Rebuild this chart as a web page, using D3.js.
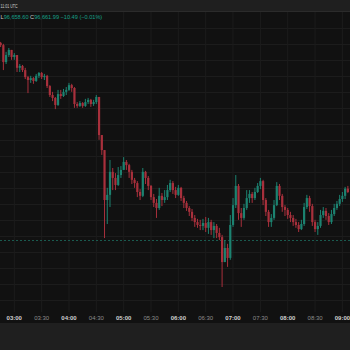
<!DOCTYPE html>
<html>
<head>
<meta charset="utf-8">
<script src="https://cdn.jsdelivr.net/npm/d3@7"></script>
<style>
html, body { margin: 0; padding: 0; background: #111111; }
svg { display: block; }
</style>
</head>
<body>
<script>
var width = 350, height = 350;
var paneTop = 12, paneBottom = 312, axisBottom = 323;

// ---- data (3 minute candles) ----
var firstTime = "02:45";
var barMinutes = 3;
var firstOpen = 97128;
var closes = [
  97121,97068,97090,97106,97084,97090,97050,97056,97043,97021,
  97012,97018,97009,97025,97034,97021,97025,96993,96965,96956,
  96934,96968,96962,96975,96981,96996,96987,96937,96931,96940,
  96931,96943,96950,96937,96943,96959,96840,96793,96637,96653,
  96725,96706,96684,96715,96731,96756,96746,96725,96700,96690,
  96662,96650,96725,96706,96681,96646,96628,96612,96650,96637,
  96646,96668,96690,96668,96653,96675,96643,96628,96612,96600,
  96581,96568,96559,96556,96565,96550,96568,96543,96556,96534,
  96521,96443,96487,96456,96559,96621,96681,96596,96581,96612,
  96643,96656,96643,96662,96681,96696,96637,96600,96568,96581,
  96621,96681,96650,96615,96606,96590,96581,96568,96559,96546,
  96562,96615,96643,96618,96568,96546,96556,96590,96603,96587,
  96568,96593,96612,96625,96640,96650,96672.48,96661.99
];
var highs = [
  97131,97125,97100,97112,97106,97096,97090,97062,97059,97050,
  97025,97025,97021,97031,97037,97037,97031,97028,96996,96975,
  96959,96981,96981,96984,96990,97003,97000,96990,96943,96946,
  96943,96953,96956,96953,96950,96965,96959,96840,96793,96675,
  96762,96737,96721,96740,96743,96771,96762,96750,96731,96706,
  96696,96671,96737,96728,96712,96684,96656,96640,96675,96659,
  96668,96684,96700,96696,96678,96684,96678,96650,96634,96618,
  96609,96590,96578,96575,96578,96584,96581,96575,96568,96562,
  96550,96528,96512,96500,96590,96643,96715,96687,96612,96625,
  96668,96668,96662,96675,96690,96706,96700,96643,96606,96593,
  96637,96693,96687,96656,96621,96612,96600,96590,96578,96568,
  96575,96628,96653,96650,96625,96575,96568,96606,96615,96612,
  96596,96606,96625,96634,96653,96662,96678,96681
];
var lows = [
  97115,97043,97062,97084,97075,97075,97037,97037,97037,97015,
  96971,97003,97000,97006,97018,97015,97012,96987,96959,96946,
  96921,96931,96953,96959,96965,96978,96975,96925,96925,96928,
  96925,96928,96937,96928,96931,96937,96825,96778,96518,96562,
  96615,96668,96668,96681,96706,96731,96731,96706,96687,96675,
  96646,96637,96646,96687,96668,96637,96615,96581,96606,96618,
  96628,96637,96662,96656,96643,96650,96634,96612,96603,96587,
  96571,96553,96550,96543,96543,96537,96531,96528,96518,96518,
  96512,96365,96443,96428,96450,96553,96612,96575,96553,96575,
  96606,96628,96628,96637,96659,96671,96621,96587,96553,96553,
  96575,96618,96637,96600,96587,96578,96568,96556,96550,96537,
  96543,96556,96609,96600,96556,96537,96528,96550,96581,96575,
  96559,96562,96587,96606,96618,96631,96640,96658.6
];
var tickLabels = ["03:00","03:30","04:00","04:30","05:00","05:30","06:00",
                  "06:30","07:00","07:30","08:00","08:30","09:00"];
var refPrice = 96512;      // dashed line
var headerTime = "11:01 UTC";
var headerLow = "96,658.60";
var headerClose = "96,661.99";
var headerChange = "\u221210.49 (\u22120.01%)";

var upColor = "#1c8270", downColor = "#a8303c";

var parseTime = d3.utcParse("%H:%M");
var t0 = parseTime(firstTime);
var candles = closes.map(function(c, i) {
  var o = i === 0 ? firstOpen : closes[i - 1];
  return {
    t: d3.utcMinute.offset(t0, i * barMinutes),
    o: o, c: c,
    h: Math.max(highs[i], o, c),
    l: Math.min(lows[i], o, c)
  };
});

var x = d3.scaleUtc()
  .domain([parseTime(tickLabels[0]), parseTime(tickLabels[tickLabels.length - 1])])
  .range([14.3, 342.4]);

var y = d3.scaleLinear().domain([97262, 96512]).range([0, 240]);

var svg = d3.select("body").append("svg")
  .attr("width", width)
  .attr("height", height);

svg.append("rect").attr("width", width).attr("height", height).attr("fill", "#111111");

// grid
var grid = svg.append("g");
var gridPrices = d3.range(97224.5 - 50, 96300, -50);
grid.selectAll(".hg").data(gridPrices).enter().append("line")
  .attr("x1", 0).attr("x2", width)
  .attr("y1", function(d) { return y(d) + 0.5; })
  .attr("y2", function(d) { return y(d) + 0.5; })
  .attr("stroke", "#1c1c1c").attr("stroke-width", 1);

grid.selectAll(".vg").data(tickLabels).enter().append("line")
  .attr("x1", function(d) { return x(parseTime(d)); })
  .attr("x2", function(d) { return x(parseTime(d)); })
  .attr("y1", paneTop).attr("y2", paneBottom)
  .attr("stroke", "#1c1c1c").attr("stroke-width", 1);

// previous close line
svg.append("line")
  .attr("x1", 0).attr("x2", width)
  .attr("y1", y(refPrice) + 0.5).attr("y2", y(refPrice) + 0.5)
  .attr("stroke", "#1a5a4f").attr("stroke-width", 1)
  .attr("stroke-dasharray", "2,2");

// candles
var bodyW = 2.2;
var cg = svg.append("g");
var bars = cg.selectAll("g").data(candles).enter().append("g");
bars.append("line")
  .attr("x1", function(d) { return x(d.t); })
  .attr("x2", function(d) { return x(d.t); })
  .attr("y1", function(d) { return y(d.h); })
  .attr("y2", function(d) { return y(d.l); })
  .attr("stroke", function(d) { return d.c >= d.o ? upColor : downColor; })
  .attr("stroke-width", 1);
bars.append("rect")
  .attr("x", function(d) { return x(d.t) - bodyW / 2; })
  .attr("width", bodyW)
  .attr("y", function(d) { return y(Math.max(d.o, d.c)); })
  .attr("height", function(d) { return Math.max(0.8, Math.abs(y(d.o) - y(d.c))); })
  .attr("fill", function(d) { return d.c >= d.o ? upColor : downColor; });

// top bar
svg.append("rect").attr("x", 0).attr("y", 0).attr("width", width).attr("height", 11.5)
  .attr("fill", "#1f1f1f");
svg.append("line").attr("x1", 0).attr("x2", width).attr("y1", 11.5).attr("y2", 11.5)
  .attr("stroke", "#2b2b2b");
svg.append("text")
  .attr("x", 0.5).attr("y", 7.6)
  .attr("textLength", 17).attr("lengthAdjust", "spacingAndGlyphs")
  .attr("font-family", "Liberation Sans, Arial, sans-serif")
  .attr("font-size", "4.8px")
  .attr("fill", "#cfcfcf")
  .text(headerTime);

// legend line
var leg = svg.append("text")
  .attr("x", 0.5).attr("y", 19.3)
  .attr("font-family", "Liberation Sans, Arial, sans-serif")
  .attr("font-size", "5.6px");
leg.append("tspan").attr("fill", "#c8c8c8").text("L");
leg.append("tspan").attr("fill", "#16a088").text(headerLow + " ");
leg.append("tspan").attr("fill", "#c8c8c8").text("C");
leg.append("tspan").attr("fill", "#16a088").text(headerClose + " " + headerChange);

// time axis
svg.append("g").selectAll("text").data(tickLabels).enter().append("text")
  .attr("x", function(d) { return x(parseTime(d)); })
  .attr("y", 320)
  .attr("text-anchor", "middle")
  .attr("font-family", "Liberation Sans, Arial, sans-serif")
  .attr("font-size", "6px")
  .attr("font-weight", function(d) { return d.slice(3) === "00" ? "bold" : "normal"; })
  .attr("fill", function(d) { return d.slice(3) === "00" ? "#d0d0d0" : "#8c8c8c"; })
  .text(function(d) { return d; });

// bottom bar
svg.append("rect").attr("x", 0).attr("y", axisBottom).attr("width", width)
  .attr("height", height - axisBottom).attr("fill", "#1f1f1f");
</script>
</body>
</html>
